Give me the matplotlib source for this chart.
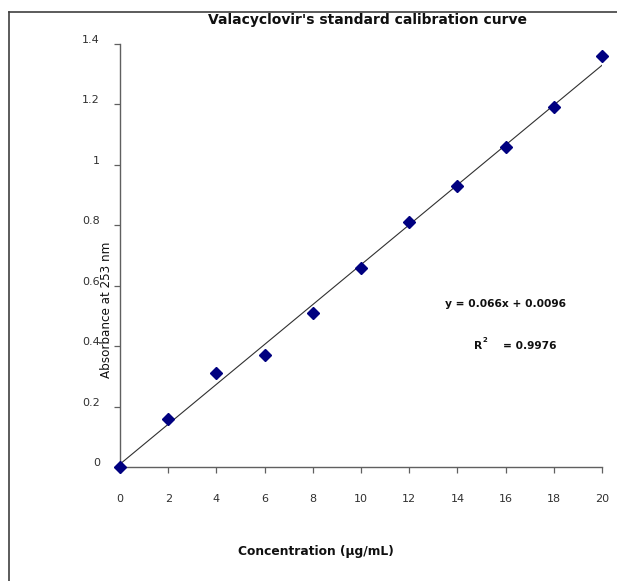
import numpy as np
import matplotlib
matplotlib.use('Agg')
import matplotlib.pyplot as plt
import matplotlib.transforms as mtransforms
from matplotlib.lines import Line2D

# Calibration data
concentration = [0, 2, 4, 6, 8, 10, 12, 14, 16, 18, 20]
absorbance = [0.0, 0.16, 0.31, 0.37, 0.51, 0.66, 0.81, 0.93, 1.06, 1.19, 1.36]
slope = 0.066
intercept = 0.0096
r_squared = 0.9976
x_ticks = [0, 2, 4, 6, 8, 10, 12, 14, 16, 18, 20]
y_ticks = [0, 0.2, 0.4, 0.6, 0.8, 1.0, 1.2, 1.4]
y_tick_labels = ['0', '0.2', '0.4', '0.6', '0.8', '1', '1.2', '1.4']

W, H = 617, 581
fig = plt.figure(figsize=(W / 100, H / 100), dpi=100)
fig.patch.set_facecolor('white')

ax = fig.add_axes([120 / W, 1 - 467 / H, (602 - 120) / W, (467 - 44) / H])
ax.set_xlim(0, 20)
ax.set_ylim(0, 1.4)

# Linear fit line
fit_x = np.array([concentration[0], concentration[-1]])
ax.plot(fit_x, slope * fit_x + intercept, color='#303030', lw=0.8, zorder=2)

# Measured points
ax.plot(concentration, absorbance, linestyle='none', marker='D', markersize=6.3,
        color='#000080', markeredgecolor='#000080', zorder=3, clip_on=False)

for side in ['top', 'right']:
    ax.spines[side].set_visible(False)
for side in ['left', 'bottom']:
    ax.spines[side].set_color('#606060')
    ax.spines[side].set_linewidth(1.0)

ax.set_xticks(x_ticks)
ax.set_xticklabels([str(t) for t in x_ticks])
ax.set_yticks(y_ticks)
ax.set_yticklabels(y_tick_labels)
ax.tick_params(axis='both', direction='out', length=4.5, width=0.9, color='#606060',
               labelsize=8, labelcolor='#303030')
ax.tick_params(axis='x', pad=15)
ax.tick_params(axis='y', pad=10)

# shift y tick labels slightly upward
offset = mtransforms.ScaledTranslation(0, 5 / 100, fig.dpi_scale_trans)
for lab in ax.get_yticklabels():
    lab.set_transform(lab.get_transform() + offset)

# Equation and R squared
ax.text(16.0, 0.54, 'y = 0.066x + 0.0096', ha='center', va='center',
        fontsize=7.7, fontweight='bold', color='#101010')
ax.text(14.85, 0.40, 'R', ha='center', va='center', fontsize=7.7,
        fontweight='bold', color='#101010')
ax.text(15.15, 0.42, '2', ha='center', va='center', fontsize=5,
        fontweight='bold', color='#101010')
ax.text(17.0, 0.40, '= %.4f' % r_squared, ha='center', va='center', fontsize=7.7,
        fontweight='bold', color='#101010')

# Titles and axis labels
fig.text(367 / W, 1 - 20 / H, "Valacyclovir's standard calibration curve",
         ha='center', va='center', fontsize=10, fontweight='bold', color='#101010')
fig.text(316 / W, 1 - 551 / H, 'Concentration (\u00b5g/mL)', ha='center', va='center',
         fontsize=8.8, fontweight='bold', color='#101010')
fig.text(107 / W, 1 - 310 / H, 'Absorbance at 253 nm', ha='center', va='center',
         rotation=90, fontsize=9.5, color='#101010', family='DejaVu Sans',
         fontstretch='condensed')

# Frame lines along top and left edges
fig.add_artist(Line2D([9 / W, 1], [1 - 12 / H, 1 - 12 / H], transform=fig.transFigure,
                      color='#404040', lw=1.2))
fig.add_artist(Line2D([9 / W, 9 / W], [1 - 12 / H, 0], transform=fig.transFigure,
                      color='#404040', lw=1.2))

fig.savefig('out.png', dpi=100)
